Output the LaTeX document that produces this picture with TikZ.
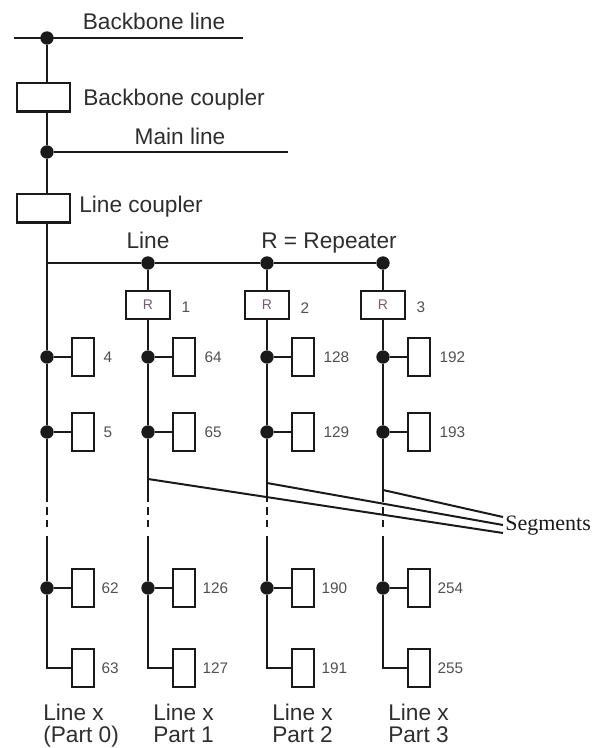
\documentclass[tikz,border=0pt]{standalone}
\usepackage{fontspec}
\setmainfont{Liberation Sans}
\newfontfamily\segfont{Liberation Serif}
\definecolor{txt}{HTML}{2E2E2E}
\definecolor{numc}{HTML}{505050}
\definecolor{rcol}{HTML}{7A5C72}
\definecolor{ink}{HTML}{1A1A1A}
\tikzset{
  wire/.style={line width=2pt, draw=ink},
  segline/.style={line width=1.5pt, draw=ink},
  dot/.style={circle, fill=ink, inner sep=0pt, minimum size=10pt},
  coupler/.style={draw=ink, line width=2pt, rectangle, minimum width=39.75pt, minimum height=21.5pt, inner sep=0pt},
  rep/.style={draw=ink, line width=2pt, rectangle, minimum width=33pt, minimum height=21pt, inner sep=0pt, font=\fontsize{10.5}{12}\selectfont, text=rcol},
  dev/.style={draw=ink, line width=2pt, rectangle, minimum width=16.5pt, minimum height=28.5pt, inner sep=0pt},
  big/.style={font=\fontsize{17}{20}\selectfont, text=txt, inner sep=0pt},
  num/.style={font=\fontsize{11.5}{13}\selectfont, text=numc, inner sep=0pt, anchor=west},
}
\begin{document}
\begin{tikzpicture}[x=0.75pt,y=-0.75pt]
\useasboundingbox (0,0) rectangle (594,748);
% backbone
\coordinate (bbL) at (14,38);
\coordinate (bbR) at (243,38);
\node[dot] (bbdot) at (47,38) {};
\draw[wire] (bbL) -- (bbR);
\node[big, anchor=base] (bbtxt) at (154,30) {Backbone line};
\node[coupler] (bbc) at (43.5,97.5) {};
\node[big, anchor=base west] (bbctxt) at (83,106) {Backbone coupler};
% main line
\node[dot] (mdot) at (47,152) {};
\coordinate (mR) at (288,152);
\draw[wire] (mdot) -- (mR);
\node[big, anchor=base] (mtxt) at (180,145) {Main line};
\node[coupler] (lc) at (43.5,208.5) {};
\node[big, anchor=base west] (lctxt) at (79,213) {Line coupler};
\draw[wire] (bbdot) -- (bbdot |- bbc.north);
\draw[wire] (bbdot |- bbc.south) -- (mdot) -- (mdot |- lc.north);
% line
\coordinate (lineL) at (47,263);
\node[dot] (d1) at (148,263) {};
\node[dot] (d2) at (267,263) {};
\node[dot] (d3) at (383,263) {};
\draw[wire] (lineL) -- (d1) -- (d2) -- (d3);
\node[big, anchor=base] (linetxt) at (148,248) {Line};
\node[big, anchor=base] (reptxt) at (329,248) {R = Repeater};
% repeaters
\foreach \c/\x in {1/148,2/267,3/383}{
  \node[rep] (r\c) at (\x,305) {R};
  \node[num] (rl\c) at ([xshift=7.5pt,yshift=-2pt]r\c.east) {\c};
  \draw[wire] (d\c) -- (r\c.north);
}
% columns with devices
\foreach \c/\x/\a/\b/\e/\f in {0/47/4/5/62/63, 1/148/64/65/126/127, 2/267/128/129/190/191, 3/383/192/193/254/255}{
  \node[dot] (dA\c) at (\x,357) {};
  \node[dot] (dB\c) at (\x,432) {};
  \node[dot] (dC\c) at (\x,588) {};
  \coordinate (cD\c) at (\x,668);
  \node[dev] (bA\c) at (\x+36,357) {};
  \node[dev] (bB\c) at (\x+36,432) {};
  \node[dev] (bC\c) at (\x+36,588) {};
  \node[dev] (bD\c) at (\x+36,668) {};
  \node[num] (lA\c) at ([xshift=6pt]bA\c.east) {\a};
  \node[num] (lB\c) at ([xshift=6pt]bB\c.east) {\b};
  \node[num] (lC\c) at ([xshift=4.5pt]bC\c.east) {\e};
  \node[num] (lD\c) at ([xshift=4.5pt]bD\c.east) {\f};
  \coordinate (s\c) at (\x,502);
  \coordinate (ta\c) at (\x,507);
  \coordinate (tb\c) at (\x,515);
  \coordinate (ua\c) at (\x,520);
  \coordinate (ub\c) at (\x,527);
  \coordinate (v\c) at (\x,536);
  \draw[wire] (dA\c) -- (bA\c.west);
  \draw[wire] (dB\c) -- (bB\c.west);
  \draw[wire] (dC\c) -- (bC\c.west);
  \draw[wire] (dA\c) -- (dB\c) -- (s\c);
  \draw[wire] (ta\c) -- (tb\c);
  \draw[wire] (ua\c) -- (ub\c);
  \draw[wire] (v\c) -- (dC\c) -- (cD\c) -- (bD\c.west);
}
\draw[wire] (dA0 |- lc.south) -- (dA0);
\foreach \c in {1,2,3}{ \draw[wire] (r\c.south) -- (dA\c); }
% segments
\coordinate (g1) at (148,479);
\coordinate (g2) at (267,483);
\coordinate (g3) at (383,490);
\coordinate (e1) at (503,533);
\coordinate (e2) at (503,525);
\coordinate (e3) at (503,517);
\draw[segline] (g1) -- (e1);
\draw[segline] (g2) -- (e2);
\draw[segline] (g3) -- (e3);
\node[anchor=west, inner sep=0pt, font=\segfont\fontsize{16.5}{18}\selectfont, text=ink] (segtxt) at (505,526) {Segments};
% bottom labels
\foreach \c/\x/\p in {0/43/(Part 0), 1/153/Part 1, 2/272/Part 2, 3/388/Part 3}{
  \node[big, anchor=base west] (lx\c) at (\x,720) {Line x};
  \node[big, anchor=base west] (px\c) at (\x,742) {\p};
}
\end{tikzpicture}
\end{document}
